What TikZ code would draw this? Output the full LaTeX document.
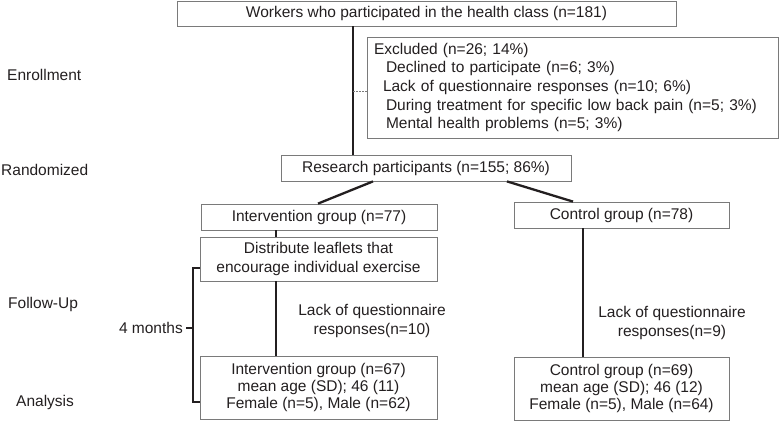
\documentclass[tikz,border=0pt]{standalone}
\usepackage{fontspec}
\setmainfont{Liberation Sans}
\definecolor{txt}{HTML}{231F20}
\definecolor{boxc}{HTML}{7A7A7A}
\begin{document}
\begin{tikzpicture}[x=1pt,y=-1pt,
  font=\fontsize{15.5pt}{19pt}\selectfont, text=txt,
  flowbox/.style={draw=boxc, line width=0.8pt, inner sep=0pt, align=center},
  conn/.style={draw=txt, line width=2.3pt},
  lbl/.style={inner sep=0pt}]
\useasboundingbox (0,0) rectangle (781,422);
% boxes
\node[flowbox, minimum width=499pt, minimum height=25pt] (top) at (426.5,13.5) {Workers who participated in the health class (n=181)};
\node[flowbox, minimum height=101pt, text width=397pt, inner xsep=7pt, align=left,
      font=\fontsize{15.5pt}{18.6pt}\selectfont] (excl) at (572.5,87.5)
 {Excluded (n=26; 14\%)\\
  \hspace*{12pt}Declined to participate (n=6; 3\%)\\
  \hspace*{9pt}Lack of questionnaire responses (n=10; 6\%)\\
  \hspace*{12pt}During treatment for specific low back pain (n=5; 3\%)\\
  \hspace*{12pt}Mental health problems (n=5; 3\%)};
\node[flowbox, minimum width=290pt, minimum height=26pt] (res) at (426,168) {Research participants (n=155; 86\%)};
\node[flowbox, minimum width=236pt, minimum height=26pt] (int) at (319,217) {Intervention group (n=77)};
\node[flowbox, minimum width=215pt, minimum height=26pt] (ctl) at (621.5,215) {Control group (n=78)};
\node[flowbox, minimum width=237pt, minimum height=44pt] (dist) at (318.5,259) {Distribute leaflets that\\encourage individual exercise};
\node[flowbox, minimum width=237pt, minimum height=63pt, font=\fontsize{15.5pt}{17pt}\selectfont] (inta) at (318.5,387.5) {Intervention group (n=67)\\mean age (SD); 46 (11)\\Female (n=5), Male (n=62)};
\node[flowbox, minimum width=215pt, minimum height=63pt, font=\fontsize{15.5pt}{17pt}\selectfont] (ctla) at (621.5,388.5) {Control group (n=69)\\mean age (SD); 46 (12)\\Female (n=5), Male (n=64)};
% side labels
\node[lbl, anchor=west] (l1) at (7,75) {Enrollment};
\node[lbl, anchor=west] (l2) at (1,170) {Randomized};
\node[lbl, anchor=west] (l3) at (8,304) {Follow-Up};
\node[lbl, anchor=west] (l4) at (16,402) {Analysis};
\node[lbl, align=center] (lackL) at (372,321) {Lack of questionnaire\\responses(n=10)};
\node[lbl, align=center] (lackR) at (672,323) {Lack of questionnaire\\responses(n=9)};
\node[lbl, anchor=east] (months) at (183,328) {4 months};
% connector x positions
\coordinate (vx) at (353,0);
\coordinate (a1) at (373,0);
\coordinate (a2) at (318,0);
\coordinate (b1) at (507,0);
\coordinate (b2) at (573,0);
\coordinate (vi) at (276,0);
\coordinate (vc) at (583,0);
\coordinate (dash) at (353,91);
% connectors
\draw[conn] (top.south -| vx) -- (res.north -| vx);
\draw[boxc, line width=0.7pt, dash pattern=on 1.5pt off 1.5pt] (dash) -- (excl.west |- dash);
\draw[conn] (res.south -| a1) -- (int.north -| a2);
\draw[conn] (res.south -| b1) -- (ctl.north -| b2);
\draw[conn] (int.south -| vi) -- (dist.north -| vi);
\draw[conn] (dist.south -| vi) -- (inta.north -| vi);
\draw[conn] (ctl.south -| vc) -- (ctla.north -| vc);
% bracket
\coordinate (bt) at (200,268);
\coordinate (bb) at (200,402);
\draw[txt, line width=1.8pt] (bt) -- (193,268) -- (193,402) -- (bb);
\draw[txt, line width=1.8pt] (186,328) -- (193,328);
\end{tikzpicture}
\end{document}
